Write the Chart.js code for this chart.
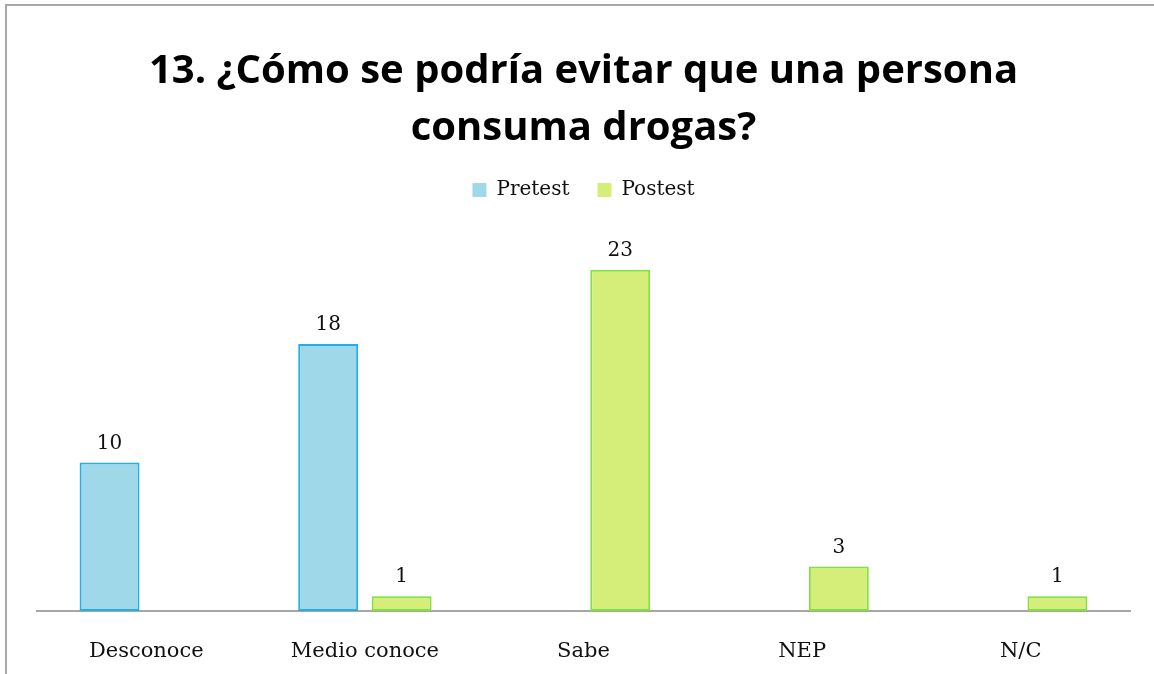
<!DOCTYPE html>
<html>
<head>
<meta charset="utf-8">
<script src="https://cdn.jsdelivr.net/npm/chart.js@4"></script>
<style>
  body { margin: 0; background: #fff; }
  #wrap { position: relative; width: 1154px; height: 674px; }
</style>
</head>
<body>
<div id="wrap"><canvas id="myChart"></canvas></div>
<script>
// chart data
const categories = ['Desconoce', 'Medio conoce', 'Sabe', 'NEP', 'N/C'];
const pretest = [10, 18, 0, 0, 0];
const postest = [0, 1, 23, 3, 1];
const titleLines = ['13. ¿Cómo se podría evitar que una persona', 'consuma drogas?'];

// frame lines round the picture (top + left)
const framePlugin = {
  id: 'frame',
  beforeDraw(chart) {
    const ctx = chart.ctx;
    ctx.save();
    ctx.fillStyle = '#fff';
    ctx.fillRect(0, 0, chart.width, chart.height);
    ctx.strokeStyle = '#a8a8a8';
    ctx.lineWidth = 2;
    ctx.beginPath();
    ctx.moveTo(6, chart.height);
    ctx.lineTo(6, 5);
    ctx.lineTo(chart.width, 5);
    ctx.stroke();
    ctx.restore();
  }
};

// value labels above the bars
const valueLabels = {
  id: 'valueLabels',
  afterDatasetsDraw(chart) {
    const ctx = chart.ctx;
    ctx.save();
    ctx.font = '20px "DejaVu Serif"';
    ctx.fillStyle = '#111';
    ctx.textAlign = 'center';
    ctx.textBaseline = 'middle';
    chart.data.datasets.forEach((ds, i) => {
      chart.getDatasetMeta(i).data.forEach((bar, j) => {
        if (ds.data[j] > 0) {
          ctx.fillText(ds.data[j], bar.x, bar.y - 19);
        }
      });
    });
    ctx.restore();
  }
};

// a bit of extra room under the legend
const legendGap = {
  id: 'legendGap',
  beforeInit(chart) {
    const fit = chart.legend.fit;
    chart.legend.fit = function () {
      fit.bind(chart.legend)();
      this.height += 30;
    };
  }
};

let myChart = document.getElementById('myChart').getContext('2d');
let chart = new Chart(myChart, {
  type: 'bar',
  data: {
    labels: categories,
    datasets: [{
      label: 'Pretest',
      data: pretest,
      backgroundColor: '#9ed8e9',
      borderColor: '#22aeea',
      borderWidth: 2,
      borderSkipped: false,
      categoryPercentage: 0.672,
      barPercentage: 0.816
    }, {
      label: 'Postest',
      data: postest,
      backgroundColor: '#d5ee7a',
      borderColor: '#80e03c',
      borderWidth: 2,
      borderSkipped: false,
      categoryPercentage: 0.672,
      barPercentage: 0.816
    }]
  },
  options: {
    responsive: true,
    maintainAspectRatio: false,
    animation: false,
    layout: {
      padding: { top: 43, left: 37, right: 24, bottom: 0 }
    },
    plugins: {
      title: {
        display: true,
        text: titleLines,
        color: '#000',
        font: { family: '"Open Sans"', weight: 'bold', size: 40, lineHeight: '57px' },
        padding: { top: 0, bottom: -5 }
      },
      legend: {
        display: true,
        labels: {
          color: '#111',
          font: { family: '"DejaVu Serif"', size: 20 },
          boxWidth: 14,
          boxHeight: 14,
          padding: 28,
          generateLabels(chart) {
            return chart.data.datasets.map((ds, i) => ({
              text: ds.label,
              fillStyle: ds.backgroundColor,
              strokeStyle: ds.backgroundColor,
              lineWidth: 0,
              fontColor: '#111',
              datasetIndex: i
            }));
          }
        }
      },
      tooltip: { enabled: false }
    },
    scales: {
      x: {
        grid: { display: false, drawTicks: false },
        border: { display: true, color: '#a6a6a6', width: 2 },
        ticks: {
          color: '#111',
          padding: 28,
          font: { family: '"DejaVu Serif"', size: 21 }
        },
        afterFit(scale) {
          scale.height = 63;
        }
      },
      y: {
        display: false,
        min: 0,
        max: 25
      }
    }
  },
  plugins: [framePlugin, valueLabels, legendGap]
});
</script>
</body>
</html>
